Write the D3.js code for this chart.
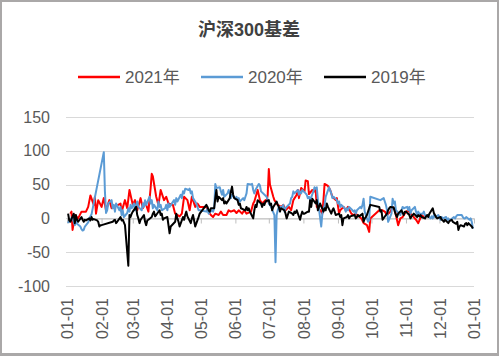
<!DOCTYPE html>
<html><head><meta charset="utf-8">
<script src="https://cdn.jsdelivr.net/npm/d3@7/dist/d3.min.js"></script>
<style>
html,body{margin:0;padding:0;background:#fff;}
svg{display:block;}
</style></head>
<body>
<svg id="chart" width="499" height="356"></svg>
<script>
const title = "沪深300基差";
const seriesNames = ["2021年", "2020年", "2019年"];
const seriesColors = ["#ff0000", "#5b9bd5", "#000000"];
const yTicks = [150, 100, 50, 0, -50, -100];

const dates2021 = ["01-04","01-05","01-06","01-08","01-11","01-14","01-18","01-20","01-22","01-25","01-26","01-27","01-29","02-01","02-03","02-05","02-08","02-10","02-18","02-19","02-22","02-24","02-26","03-01","03-03","03-05","03-08","03-10","03-12","03-15","03-17","03-18","03-19","03-22","03-24","03-26","03-29","03-31","04-02","04-06","04-08","04-12","04-14","04-16","04-19","04-21","04-23","04-26","04-28","04-30","05-06","05-07","05-10","05-12","05-14","05-17","05-19","05-21","05-24","05-26","05-28","05-31","06-02","06-04","06-07","06-09","06-11","06-15","06-17","06-18","06-21","06-23","06-25","06-28","06-29","06-30","07-01","07-02","07-05","07-06","07-08","07-09","07-12","07-14","07-16","07-19","07-21","07-23","07-26","07-27","07-28","07-30","08-02","08-03","08-05","08-06","08-09","08-11","08-12","08-13","08-16","08-18","08-19","08-20","08-23","08-24","08-25","08-27","08-30","08-31","09-02","09-03","09-06","09-08","09-10","09-13","09-15","09-17","09-22","09-24","09-27","09-29","09-30","10-08","10-11","10-13","10-15","10-18","10-20","10-22","10-25","10-27","10-29","11-01","11-03","11-05","11-08","11-10","11-12","11-15","11-17","11-19"];
const values2021 = [7,10,-17,5,0,10,10,17,34,20,32,7,27,17,30,12,27,15,22,10,27,15,42,20,27,12,30,15,25,10,45,66,62,32,20,42,27,32,22,20,7,3,7,32,27,12,32,17,22,17,17,12,5,2,7,5,10,5,5,12,10,12,8,12,7,12,7,10,22,25,42,27,22,27,25,35,73,50,32,27,22,20,17,20,12,17,12,27,35,42,30,45,40,56,55,36,42,40,42,17,12,7,27,51,48,45,42,32,27,30,7,12,17,12,17,7,5,7,0,-7,-10,-20,0,12,12,10,5,10,17,12,-10,0,2,10,12,7,2,-2,-7,5,2,0];

const dates2020 = ["01-02","01-03","01-06","01-07","01-08","01-09","01-10","01-13","01-14","01-15","01-16","01-17","01-20","01-21","01-22","01-23","02-03","02-04","02-05","02-06","02-07","02-10","02-11","02-12","02-13","02-14","02-17","02-18","02-19","02-20","02-21","02-24","02-25","02-26","02-27","02-28","03-02","03-03","03-04","03-05","03-06","03-09","03-10","03-11","03-12","03-13","03-16","03-17","03-18","03-19","03-20","03-23","03-24","03-25","03-26","03-27","03-30","03-31","04-01","04-02","04-03","04-07","04-08","04-09","04-10","04-13","04-14","04-15","04-16","04-17","04-20","04-21","04-22","04-23","04-24","04-27","04-28","04-29","04-30","05-06","05-07","05-08","05-11","05-12","05-13","05-14","05-15","05-18","05-19","05-20","05-21","05-22","05-25","05-26","05-27","05-28","05-29","06-01","06-02","06-03","06-04","06-05","06-08","06-09","06-10","06-11","06-12","06-15","06-16","06-17","06-18","06-19","06-22","06-23","06-24","06-29","06-30","07-01","07-02","07-03","07-06","07-07","07-08","07-09","07-10","07-13","07-14","07-15","07-16","07-17","07-20","07-21","07-22","07-23","07-24","07-27","07-28","07-29","07-30","07-31","08-03","08-04","08-05","08-06","08-07","08-10","08-11","08-12","08-13","08-14","08-17","08-18","08-19","08-20","08-21","08-24","08-25","08-26","08-27","08-28","08-31","09-01","09-02","09-03","09-04","09-07","09-08","09-09","09-10","09-11","09-14","09-15","09-16","09-17","09-18","09-21","09-22","09-23","09-24","09-25","09-28","09-29","09-30","10-09","10-12","10-13","10-14","10-15","10-16","10-19","10-20","10-21","10-22","10-23","10-26","10-27","10-28","10-29","10-30","11-02","11-03","11-04","11-05","11-06","11-09","11-10","11-11","11-12","11-13","11-16","11-17","11-18","11-19","11-20","11-23","11-24","11-25","11-26","11-27","11-30","12-01","12-02","12-03","12-04","12-07","12-08","12-09","12-10","12-11","12-14","12-15","12-16","12-17","12-18","12-21","12-22","12-23","12-24","12-25","12-28","12-29","12-30","12-31"];
const values2020 = [-7,-3,2,-5,-10,-3,-8,-12,-16,-18,-17,-12,-6,0,3,6,98,40,8,12,22,27,15,20,10,22,12,17,5,12,2,8,15,10,20,15,22,12,20,25,17,12,22,17,27,20,32,22,27,15,20,12,25,17,20,12,15,20,12,22,17,27,20,30,25,35,30,40,37,44,42,44,37,40,30,22,17,12,12,10,15,7,12,10,15,51,45,46,40,35,42,32,37,42,37,30,35,29,32,27,30,25,30,27,32,37,51,50,51,42,37,42,51,49,40,32,27,22,20,17,5,-65,5,12,17,17,20,10,15,17,22,30,32,40,37,42,35,40,37,42,37,35,30,32,27,40,46,44,46,27,-12,7,12,20,32,46,42,37,30,32,27,22,25,17,20,15,10,15,12,17,12,10,12,7,12,17,15,20,29,10,-5,-3,32,27,30,25,20,12,-5,7,29,22,25,12,7,5,12,17,15,17,12,17,7,12,17,10,5,10,7,7,10,5,2,5,0,3,0,5,2,5,2,-2,2,0,2,-2,0,-3,-2,2,0,3,5,5,5,2,0,0,2,-2,0,-5,-15];

const dates2019 = ["01-02","01-03","01-04","01-07","01-08","01-09","01-10","01-11","01-14","01-15","01-16","01-17","01-18","01-21","01-22","01-23","01-24","01-25","01-28","01-29","01-30","01-31","02-01","02-11","02-12","02-13","02-14","02-15","02-18","02-19","02-20","02-21","02-22","02-25","02-26","02-27","02-28","03-01","03-04","03-05","03-06","03-07","03-08","03-11","03-12","03-13","03-14","03-15","03-18","03-19","03-20","03-21","03-22","03-25","03-26","03-27","03-28","03-29","04-01","04-02","04-03","04-04","04-08","04-09","04-10","04-11","04-12","04-15","04-16","04-17","04-18","04-19","04-22","04-23","04-24","04-25","04-26","04-29","04-30","05-06","05-07","05-08","05-09","05-10","05-13","05-14","05-15","05-16","05-17","05-20","05-21","05-22","05-23","05-24","05-27","05-28","05-29","05-30","05-31","06-03","06-04","06-05","06-06","06-10","06-11","06-12","06-13","06-14","06-17","06-18","06-19","06-20","06-21","06-24","06-25","06-26","06-27","06-28","07-01","07-02","07-03","07-04","07-05","07-08","07-09","07-10","07-11","07-12","07-15","07-16","07-17","07-18","07-19","07-22","07-23","07-24","07-25","07-26","07-29","07-30","07-31","08-01","08-02","08-05","08-06","08-07","08-08","08-09","08-12","08-13","08-14","08-15","08-16","08-19","08-20","08-21","08-22","08-23","08-26","08-27","08-28","08-29","08-30","09-02","09-03","09-04","09-05","09-06","09-09","09-10","09-11","09-12","09-16","09-17","09-18","09-19","09-20","09-23","09-24","09-25","09-26","09-27","09-30","10-08","10-09","10-10","10-11","10-14","10-15","10-16","10-17","10-18","10-21","10-22","10-23","10-24","10-25","10-28","10-29","10-30","10-31","11-01","11-04","11-05","11-06","11-07","11-08","11-11","11-12","11-13","11-14","11-15","11-18","11-19","11-20","11-21","11-22","11-25","11-26","11-27","11-28","11-29","12-02","12-03","12-04","12-05","12-06","12-09","12-10","12-11","12-12","12-13","12-16","12-17","12-18","12-19","12-20","12-23","12-24","12-25","12-26","12-27","12-30","12-31"];
const values2019 = [7,-3,-5,7,-7,5,-2,-5,2,-2,-5,-2,-3,0,-3,2,-2,-1,-3,-5,-12,-10,-10,-5,-3,-2,-7,-5,2,-3,-2,-6,-10,-70,5,2,7,10,17,5,0,-7,-2,5,-5,-10,-3,-2,2,7,10,3,5,12,5,7,-2,0,2,-10,-22,-12,-5,7,0,-5,-12,2,-2,5,10,3,-7,0,5,-3,-12,2,7,20,17,12,10,15,15,30,42,25,32,27,30,22,25,22,30,40,47,35,30,27,20,22,15,12,17,12,15,10,0,12,20,17,27,22,17,22,20,25,27,20,22,12,17,25,20,17,10,15,12,7,0,5,10,7,5,10,8,12,-2,5,10,7,7,10,10,27,17,29,22,27,12,17,22,10,15,12,22,17,7,12,15,10,5,7,2,5,-10,0,2,5,0,3,5,0,2,5,3,7,-5,0,2,5,20,17,10,12,-2,5,7,12,15,17,16,10,5,2,7,12,8,5,10,10,5,0,3,5,7,2,5,3,5,2,0,3,5,2,7,15,8,5,2,0,2,-2,-3,-5,-2,-7,-4,-3,-2,-5,-8,-5,-17,-12,-10,-12,-8,-7,-10,-7,-12,-15];

const seriesDates = [dates2021, dates2020, dates2019];
const seriesValues = [values2021, values2020, values2019];

const svg = d3.select("#chart");
const W = 499, H = 356;
// outer frame
svg.append("rect").attr("x",0).attr("y",0).attr("width",W).attr("height",H).attr("fill","#aaa8a8");
svg.append("rect").attr("x",2).attr("y",2).attr("width",495).attr("height",351).attr("fill","#ffffff");

const toDate = s => { const [m,d] = s.split("-").map(Number); return new Date(2021, m-1, d); };
const x = d3.scaleTime().domain([new Date(2021,0,1), new Date(2022,0,1)]).range([67, 474]);
const y = d3.scaleLinear().domain([-100, 150]).range([286, 117]);

const font = "'Liberation Sans', Arial, 'Noto Sans CJK SC', sans-serif";

// gridlines
svg.append("g").selectAll("line").data(yTicks).join("line")
  .attr("x1", 66).attr("x2", 474)
  .attr("y1", d => Math.round(y(d)) + 0.5).attr("y2", d => Math.round(y(d)) + 0.5)
  .attr("stroke", "#d9d9d9").attr("stroke-width", 1);

// y labels
svg.append("g").selectAll("text").data(yTicks).join("text")
  .attr("x", 50).attr("y", d => y(d)).attr("dy", "0.35em")
  .attr("text-anchor", "end").attr("font-family", font).attr("font-size", 16)
  .attr("fill", "#595959").text(d => d);

// zero axis with month ticks
const months = d3.timeMonth.range(new Date(2021,0,1), new Date(2022,0,2));
const zeroAxis = svg.append("g").attr("transform", `translate(0,${Math.round(y(0)) + 0.5})`)
  .call(d3.axisBottom(x).tickValues(months).tickSize(5).tickSizeOuter(0).tickFormat(""));
zeroAxis.select(".domain").attr("stroke", "#bfbfbf");
zeroAxis.selectAll(".tick line").attr("stroke", "#bfbfbf");

// x labels (low position)
const labelAxis = svg.append("g").attr("transform", "translate(0,298)")
  .call(d3.axisBottom(x).tickValues(months).tickSize(0).tickFormat(d3.timeFormat("%m-%d")));
labelAxis.select(".domain").remove();
labelAxis.selectAll("text")
  .attr("x", 0).attr("y", 0).attr("dy", "0.35em")
  .attr("transform", "rotate(-90)").attr("text-anchor", "end")
  .attr("font-family", font).attr("font-size", 16).attr("fill", "#595959");

// lines
const line = d3.line().x(d => x(d[0])).y(d => y(d[1]));
seriesNames.forEach((name, i) => {
  const pts = seriesDates[i].map((s, j) => [toDate(s), seriesValues[i][j]]);
  svg.append("path").datum(pts).attr("d", line)
    .attr("fill", "none").attr("stroke", seriesColors[i])
    .attr("stroke-width", 2).attr("stroke-linejoin", "round");
});

// title
svg.append("text").attr("x", 249).attr("y", 36).attr("text-anchor", "middle")
  .attr("font-family", "'Liberation Sans', 'Noto Sans CJK SC', sans-serif")
  .attr("font-weight", "bold").attr("font-size", 18).attr("fill", "#404040").text(title);

// legend
const legendX = [78, 201, 324];
seriesNames.forEach((name, i) => {
  const g = svg.append("g").attr("transform", `translate(${legendX[i]},77)`);
  g.append("line").attr("x1", 0).attr("x2", 42).attr("y1", 0).attr("y2", 0)
    .attr("stroke", seriesColors[i]).attr("stroke-width", 2.5);
  g.append("text").attr("x", 47).attr("y", 0).attr("dy", "0.35em")
    .attr("font-family", font).attr("font-size", 17).attr("fill", "#595959").text(name);
});
</script>
</body></html>
